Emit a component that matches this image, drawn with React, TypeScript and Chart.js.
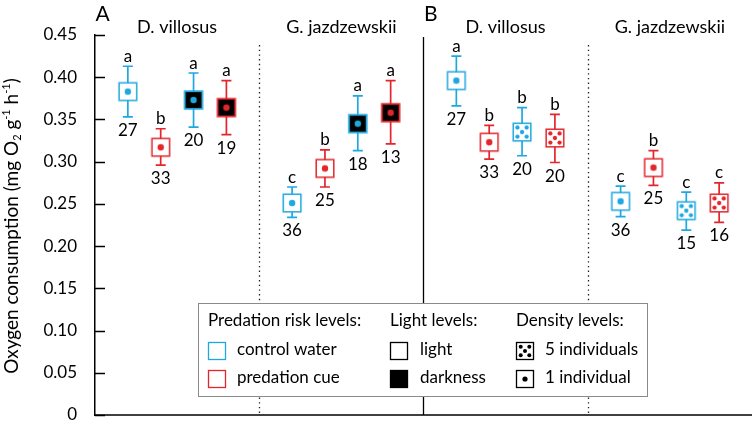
import { useEffect, useRef } from 'react';
import { Chart, registerables } from 'chart.js';

Chart.register(...registerables);

// ---------- data ----------
const panelLetters = ['A', 'B'];
const speciesTitles = ['D. villosus', 'G. jazdzewskii', 'D. villosus', 'G. jazdzewskii'];

const predation = [
  'control', 'cue', 'control', 'cue',
  'control', 'cue', 'control', 'cue',
  'control', 'cue', 'control', 'cue',
  'control', 'cue', 'control', 'cue',
];
const treatment = [
  'light', 'light', 'darkness', 'darkness',
  'light', 'light', 'darkness', 'darkness',
  '1 individual', '1 individual', '5 individuals', '5 individuals',
  '1 individual', '1 individual', '5 individuals', '5 individuals',
];
const means = [0.383, 0.317, 0.373, 0.364, 0.251, 0.292, 0.345, 0.358, 0.396, 0.323, 0.335, 0.328, 0.253, 0.293, 0.242, 0.251];
const upper = [0.413, 0.339, 0.405, 0.396, 0.270, 0.314, 0.378, 0.396, 0.425, 0.343, 0.364, 0.356, 0.271, 0.313, 0.264, 0.275];
const lower = [0.353, 0.296, 0.341, 0.332, 0.234, 0.270, 0.313, 0.321, 0.366, 0.303, 0.307, 0.299, 0.235, 0.272, 0.219, 0.228];
const letters = ['a', 'b', 'a', 'a', 'c', 'b', 'a', 'a', 'a', 'b', 'b', 'b', 'c', 'b', 'c', 'c'];
const sampleSizes = [27, 33, 20, 19, 36, 25, 18, 13, 27, 33, 20, 20, 36, 25, 15, 16];

const yTickValues = [0, 0.05, 0.1, 0.15, 0.2, 0.25, 0.3, 0.35, 0.4, 0.45];
const yTickLabels = ['0', '0.05', '0.10', '0.15', '0.20', '0.25', '0.30', '0.35', '0.40', '0.45'];

const legendTitles = ['Predation risk levels:', 'Light levels:', 'Density levels:'];
const legendPredation = ['control water', 'predation cue'];
const legendLight = ['light', 'darkness'];
const legendDensity = ['5 individuals', '1 individual'];

// ---------- styles ----------
const FONT = 'Lato, "Open Sans", sans-serif';
const COLORS: Record<string, string> = { control: '#1fa8e0', cue: '#e2262c' };

const xOf = (i: number) => Math.floor(i / 4) * 5 + (i % 4) + 1;

function makeMarker(color: string, dark: boolean, five: boolean) {
  const S = 22;
  const c = document.createElement('canvas');
  c.width = S;
  c.height = S;
  const g = c.getContext('2d')!;
  const o = 2.2;
  const side = S - 2 * o;
  g.fillStyle = dark ? '#000' : '#fff';
  g.fillRect(o, o, side, side);
  g.strokeStyle = color;
  g.lineWidth = dark ? 1.8 : 1.5;
  g.strokeRect(o, o, side, side);
  g.fillStyle = color;
  const cx = S / 2;
  const d = 4.6;
  const pts = five ? [[-d, -d], [d, -d], [0, 0], [-d, d], [d, d]] : [[0, 0]];
  const r = five ? 2.15 : 3.2;
  pts.forEach(([dx, dy]) => {
    g.beginPath();
    g.arc(cx + dx, cx + dy, r, 0, Math.PI * 2);
    g.fill();
  });
  return c;
}

function drawYTitle(ctx: CanvasRenderingContext2D, bx: number, cy: number) {
  const parts: [string, string][] = [
    ['Oxygen consumption (mg O', 'n'],
    ['2', 'sub'],
    [' g', 'n'],
    ['-1', 'sup'],
    [' h', 'n'],
    ['-1', 'sup'],
    [')', 'n'],
  ];
  const big = `19px ${FONT}`;
  const small = `11px ${FONT}`;
  let total = 0;
  parts.forEach(([t, k]) => {
    ctx.font = k === 'n' ? big : small;
    total += ctx.measureText(t).width;
  });
  ctx.save();
  ctx.translate(bx, cy);
  ctx.rotate(-Math.PI / 2);
  ctx.fillStyle = '#000';
  ctx.textBaseline = 'alphabetic';
  ctx.textAlign = 'left';
  let px = -total / 2;
  parts.forEach(([t, k]) => {
    ctx.font = k === 'n' ? big : small;
    const dy = k === 'sub' ? 3 : k === 'sup' ? -8 : 0;
    ctx.fillText(t, px, dy);
    px += ctx.measureText(t).width;
  });
  ctx.restore();
}

function legendSquare(ctx: CanvasRenderingContext2D, x: number, cy: number, stroke: string, fill: string, dots: number) {
  const s = 17;
  const top = Math.round(cy - s / 2) + 0.5;
  const left = Math.round(x) + 0.5;
  ctx.fillStyle = fill;
  ctx.fillRect(left, top, s, s);
  ctx.strokeStyle = stroke;
  ctx.lineWidth = 1.3;
  ctx.strokeRect(left, top, s, s);
  if (dots) {
    ctx.fillStyle = '#000';
    const c = left + s / 2;
    const cyy = top + s / 2;
    const d = 4.3;
    const pts = dots === 5 ? [[-d, -d], [d, -d], [0, 0], [-d, d], [d, d]] : [[0, 0]];
    const r = dots === 5 ? 2 : 2.6;
    pts.forEach(([dx, dy]) => {
      ctx.beginPath();
      ctx.arc(c + dx, cyy + dy, r, 0, Math.PI * 2);
      ctx.fill();
    });
  }
}

const decorPlugin = {
  id: 'decor',
  beforeDatasetsDraw(chart: any) {
    const { ctx, chartArea, scales } = chart;
    const x = scales.x;
    const y = scales.y;
    ctx.save();
    // bottom axis line
    ctx.strokeStyle = '#000';
    ctx.lineWidth = 1.5;
    ctx.beginPath();
    ctx.moveTo(chartArea.left - 0.75, chartArea.bottom);
    ctx.lineTo(chart.width, chartArea.bottom);
    ctx.stroke();
    // panel divider (solid)
    ctx.lineWidth = 1.3;
    const xd = x.getPixelForValue(10);
    ctx.beginPath();
    ctx.moveTo(xd, chartArea.top + 2);
    ctx.lineTo(xd, chartArea.bottom);
    ctx.stroke();
    // species dividers (dotted)
    ctx.setLineDash([1.4, 3.3]);
    ctx.lineWidth = 1.3;
    ctx.strokeStyle = '#222';
    [5, 15].forEach((v) => {
      const px = Math.round(x.getPixelForValue(v)) + 0.5;
      ctx.beginPath();
      ctx.moveTo(px, chartArea.top + 10);
      ctx.lineTo(px, chartArea.bottom);
      ctx.stroke();
    });
    ctx.setLineDash([]);
    // whiskers
    means.forEach((_, i) => {
      const px = x.getPixelForValue(xOf(i));
      const yt = y.getPixelForValue(upper[i]);
      const yb = y.getPixelForValue(lower[i]);
      ctx.strokeStyle = COLORS[predation[i]];
      ctx.lineWidth = 1.7;
      ctx.beginPath();
      ctx.moveTo(px, yt);
      ctx.lineTo(px, yb);
      ctx.moveTo(px - 5, yt);
      ctx.lineTo(px + 5, yt);
      ctx.moveTo(px - 5, yb);
      ctx.lineTo(px + 5, yb);
      ctx.stroke();
    });
    ctx.restore();
  },
  afterDatasetsDraw(chart: any) {
    const { ctx, scales } = chart;
    const x = scales.x;
    const y = scales.y;
    ctx.save();
    ctx.fillStyle = '#000';
    ctx.font = `17px ${FONT}`;
    ctx.textAlign = 'center';
    ctx.textBaseline = 'alphabetic';
    means.forEach((_, i) => {
      const px = x.getPixelForValue(xOf(i));
      const yt = y.getPixelForValue(upper[i]);
      const yb = y.getPixelForValue(lower[i]);
      ctx.fillText(letters[i], px, yt - 4.5);
      ctx.fillText(String(sampleSizes[i]), px, yb + 19);
    });
    ctx.restore();
  },
  afterDraw(chart: any) {
    const { ctx, chartArea, scales } = chart;
    const x = scales.x;
    const y = scales.y;
    ctx.save();
    // inward ticks
    ctx.strokeStyle = '#000';
    ctx.lineWidth = 1.5;
    yTickValues.forEach((v) => {
      const py = Math.round(y.getPixelForValue(v)) + 0.5;
      ctx.beginPath();
      ctx.moveTo(chartArea.left, py);
      ctx.lineTo(chartArea.left + 10, py);
      ctx.stroke();
    });
    // species titles
    ctx.fillStyle = '#000';
    ctx.font = `18px ${FONT}`;
    ctx.textAlign = 'center';
    ctx.textBaseline = 'alphabetic';
    speciesTitles.forEach((t, g) => {
      ctx.fillText(t, x.getPixelForValue(g * 5 + 2.5), 33);
    });
    // panel letters
    ctx.font = `21px ${FONT}`;
    ctx.textAlign = 'left';
    panelLetters.forEach((t, p) => {
      ctx.fillText(t, x.getPixelForValue(p * 10) + 0.5, 21);
    });
    // y title
    drawYTitle(ctx, 18, 226);
    // legend
    const L = { x: 198, y: 303, w: 449, h: 93 };
    ctx.fillStyle = '#fff';
    ctx.fillRect(L.x, L.y, L.w, L.h);
    ctx.strokeStyle = '#8a8a8a';
    ctx.lineWidth = 1;
    ctx.strokeRect(L.x + 0.5, L.y + 0.5, L.w, L.h);
    const colSq = [208, 390, 516];
    const colTx = [237, 420, 545];
    const rows = [350, 378];
    ctx.font = `17px ${FONT}`;
    ctx.fillStyle = '#000';
    ctx.textBaseline = 'middle';
    ctx.textAlign = 'left';
    legendTitles.forEach((t, c) => ctx.fillText(t, colSq[c], 321));
    legendPredation.forEach((t, r) => {
      legendSquare(ctx, colSq[0], rows[r], r === 0 ? COLORS.control : COLORS.cue, '#fff', 0);
      ctx.fillStyle = '#000';
      ctx.fillText(t, colTx[0], rows[r]);
    });
    legendLight.forEach((t, r) => {
      legendSquare(ctx, colSq[1], rows[r], '#000', r === 0 ? '#fff' : '#000', 0);
      ctx.fillStyle = '#000';
      ctx.fillText(t, colTx[1], rows[r]);
    });
    legendDensity.forEach((t, r) => {
      legendSquare(ctx, colSq[2], rows[r], '#000', '#fff', r === 0 ? 5 : 1);
      ctx.fillStyle = '#000';
      ctx.fillText(t, colTx[2], rows[r]);
    });
    ctx.restore();
  },
};

export default function App() {
  const ref = useRef<HTMLCanvasElement>(null);
  useEffect(() => {
    const markers = means.map((_, i) =>
      makeMarker(COLORS[predation[i]], treatment[i] === 'darkness', treatment[i] === '5 individuals')
    );
    const chart = new Chart(ref.current!, {
      type: 'scatter',
      data: {
        datasets: [
          {
            data: means.map((m, i) => ({ x: xOf(i), y: m })),
            pointStyle: markers as any,
            pointRadius: 10,
            showLine: false,
          },
        ],
      },
      options: {
        animation: false,
        responsive: false,
        devicePixelRatio: 1,
        events: [],
        layout: { autoPadding: false, padding: { top: 35, right: 0, left: 0, bottom: 8 } },
        plugins: { legend: { display: false }, tooltip: { enabled: false } },
        scales: {
          x: {
            type: 'linear',
            min: 0,
            max: 20,
            display: false,
          },
          y: {
            min: 0,
            max: 0.45,
            afterBuildTicks: (s: any) => {
              s.ticks = yTickValues.map((v) => ({ value: v }));
            },
            ticks: {
              callback: (_v: any, i: number) => yTickLabels[i],
              font: { family: FONT, size: 17 },
              color: '#000',
              padding: 18,
            },
            grid: { display: false, drawTicks: false },
            border: { display: true, color: '#000', width: 1.5 },
            afterFit: (s: any) => {
              s.width = 95;
              s.paddingTop = 0;
              s.paddingBottom = 0;
            },
          },
        },
      },
      plugins: [decorPlugin],
    });
    return () => chart.destroy();
  }, []);
  return (
    <div style={{ position: 'fixed', left: 0, top: 0, width: 752, height: 423, background: '#fff' }}>
      <canvas ref={ref} width={752} height={423} style={{ display: 'block', width: 752, height: 423 }} />
    </div>
  );
}
